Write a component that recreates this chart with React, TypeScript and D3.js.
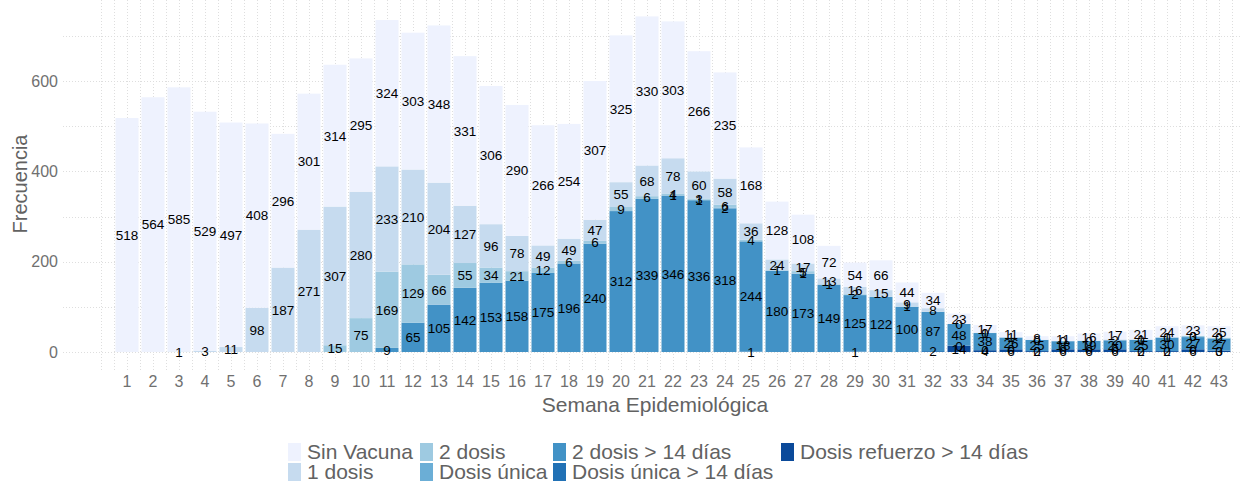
import * as d3 from "d3";
import React, { useRef, useEffect } from "react";

const weeks = [1, 2, 3, 4, 5, 6, 7, 8, 9, 10, 11, 12, 13, 14, 15, 16, 17, 18, 19, 20, 21, 22, 23, 24, 25, 26, 27, 28, 29, 30, 31, 32, 33, 34, 35, 36, 37, 38, 39, 40, 41, 42, 43];

// null = no row in the data (no label drawn)
const sinVacuna = [518, 564, 585, 529, 497, 408, 296, 301, 314, 295, 324, 303, 348, 331, 306, 290, 266, 254, 307, 325, 330, 303, 266, 235, 168, 128, 108, 72, 54, 66, 44, 34, 23, 17, 11, 8, 11, 16, 17, 21, 24, 23, 25];
const unaDosis = [null, null, 1, 3, 11, 98, 187, 271, 307, 280, 233, 210, 204, 127, 96, 78, 49, 49, 47, 55, 68, 78, 60, 58, 36, 24, 17, 13, 16, 15, 9, 8, 0, 1, 1, 0, 0, 0, 2, 1, 1, 0, 0];
const dosDosis = [null, null, null, null, null, null, null, null, 15, 75, 169, 129, 66, 55, 34, 21, 12, 6, 6, 9, 6, 4, 3, 6, 4, 1, 5, 1, 2, null, 1, null, null, 0, null, null, null, null, null, 0, 0, 3, 2];
const dosisUnica = [null, null, null, null, null, null, null, null, null, null, null, null, null, null, null, null, null, null, null, null, null, 1, 1, 2, null, null, 1, null, null, null, null, null, null, null, null, null, null, null, null, null, null, null, null];
const dosDosis14 = [null, null, null, null, null, null, null, null, null, null, 9, 65, 105, 142, 153, 158, 175, 196, 240, 312, 339, 346, 336, 318, 244, 180, 173, 149, 125, 122, 100, 87, 48, 38, 26, 25, 18, 19, 20, 25, 30, 27, 27];
const unicaDosis14 = [null, null, null, null, null, null, null, null, null, null, null, null, null, null, null, null, null, null, null, null, null, null, null, null, 1, null, null, null, 1, null, null, 2, 0, 0, 0, 0, 0, 0, 0, 0, 0, 0, 0];
const refuerzo14 = [null, null, null, null, null, null, null, null, null, null, null, null, null, null, null, null, null, null, null, null, null, null, null, null, null, null, null, null, null, null, null, null, 14, 4, 6, 2, 6, 6, 6, 2, 2, 6, 3];

const categories = ["Sin Vacuna", "1 dosis", "2 dosis", "Dosis única", "2 dosis > 14 días", "Dosis única > 14 días", "Dosis refuerzo > 14 días"];
const colors = ["#eef2fe", "#c6dbef", "#9ecae1", "#6baed6", "#4292c6", "#2171b5", "#0b4a9a"];
const yTicks = [0, 200, 400, 600];

const font = "'Liberation Sans', Arial, sans-serif";

function App() {
  const ref = useRef(null);

  useEffect(() => {
    document.body.style.margin = "0";
    const svg = d3.select(ref.current).attr("width", 1244).attr("height", 483);
    svg.selectAll("*").remove();

    const series = [sinVacuna, unaDosis, dosDosis, dosisUnica, dosDosis14, unicaDosis14, refuerzo14];
    const rows = weeks.map((w, i) => {
      const r = { week: w };
      categories.forEach((c, j) => (r[c] = series[j][i] ?? 0));
      return r;
    });
    // bottom of the stack is the last level (ggplot order)
    const keys = categories.slice().reverse();
    const stacked = d3.stack().keys(keys)(rows);

    const x = d3.scaleLinear().domain([1, 43]).range([127, 1219]);
    const y = d3.scaleLinear().domain([0, 600]).range([352, 81]);
    const barW = 23;
    const panel = { left: 63, right: 1241, top: 0, bottom: 370 };

    const grid = svg.append("g").attr("stroke", "#dedede").attr("stroke-dasharray", "1,2").attr("stroke-width", 1);
    grid
      .selectAll(".hg")
      .data(d3.range(0, 800, 100))
      .join("line")
      .attr("x1", panel.left)
      .attr("x2", panel.right)
      .attr("y1", (d) => Math.round(y(d)) + 0.5)
      .attr("y2", (d) => Math.round(y(d)) + 0.5);
    grid
      .selectAll(".vg")
      .data(d3.range(0, 45, 0.5).filter((d) => x(d) <= panel.right))
      .join("line")
      .attr("x1", (d) => Math.round(x(d)) + 0.5)
      .attr("x2", (d) => Math.round(x(d)) + 0.5)
      .attr("y1", panel.top)
      .attr("y2", panel.bottom);

    const bars = svg.append("g");
    stacked.forEach((s) => {
      const color = colors[categories.indexOf(s.key)];
      bars
        .append("g")
        .attr("fill", color)
        .selectAll("rect")
        .data(s)
        .join("rect")
        .attr("x", (d) => x(d.data.week) - barW / 2)
        .attr("width", barW)
        .attr("y", (d) => y(d[1]))
        .attr("height", (d) => y(d[0]) - y(d[1]));
    });

    const labels = svg.append("g").attr("font-family", font).attr("font-size", 13.5).attr("fill", "#000").attr("text-anchor", "middle");
    stacked.forEach((s) => {
      const vals = series[categories.indexOf(s.key)];
      labels
        .append("g")
        .selectAll("text")
        .data(s.filter((d, i) => vals[i] !== null))
        .join("text")
        .attr("x", (d) => x(d.data.week))
        .attr("y", (d) => y((d[0] + d[1]) / 2))
        .attr("dy", "0.36em")
        .text((d) => d[1] - d[0]);
    });

    svg
      .append("g")
      .attr("font-family", font)
      .attr("font-size", 16)
      .attr("fill", "#707070")
      .attr("text-anchor", "end")
      .selectAll("text")
      .data(yTicks)
      .join("text")
      .attr("x", 58)
      .attr("y", (d) => y(d))
      .attr("dy", "0.36em")
      .text((d) => d);

    svg
      .append("g")
      .attr("font-family", font)
      .attr("font-size", 16)
      .attr("fill", "#707070")
      .attr("text-anchor", "middle")
      .selectAll("text")
      .data(weeks)
      .join("text")
      .attr("x", (d) => x(d))
      .attr("y", 387)
      .text((d) => d);

    svg
      .append("text")
      .attr("font-family", font)
      .attr("font-size", 21)
      .attr("fill", "#626262")
      .attr("text-anchor", "middle")
      .attr("x", 655)
      .attr("y", 412)
      .text("Semana Epidemiológica");

    svg
      .append("text")
      .attr("font-family", font)
      .attr("font-size", 20)
      .attr("fill", "#626262")
      .attr("text-anchor", "middle")
      .attr("transform", "translate(27,184) rotate(-90)")
      .text("Frecuencia");

    // legend: 4 columns, 2 rows, filled by column
    const colX = [288, 420, 553, 781];
    const rowY = [443, 463];
    const legend = svg.append("g").attr("font-family", font).attr("font-size", 21).attr("fill", "#626262");
    categories.forEach((c, i) => {
      const col = Math.floor(i / 2);
      const row = i % 2;
      legend
        .append("rect")
        .attr("x", colX[col])
        .attr("y", rowY[row])
        .attr("width", 13)
        .attr("height", 18)
        .attr("fill", colors[i]);
      legend
        .append("text")
        .attr("x", colX[col] + 19)
        .attr("y", rowY[row] + 16)
        .text(c);
    });
  }, []);

  return (
    <div className="chart">
      <svg ref={ref} style={{ display: "block" }}></svg>
    </div>
  );
}

export default App;
